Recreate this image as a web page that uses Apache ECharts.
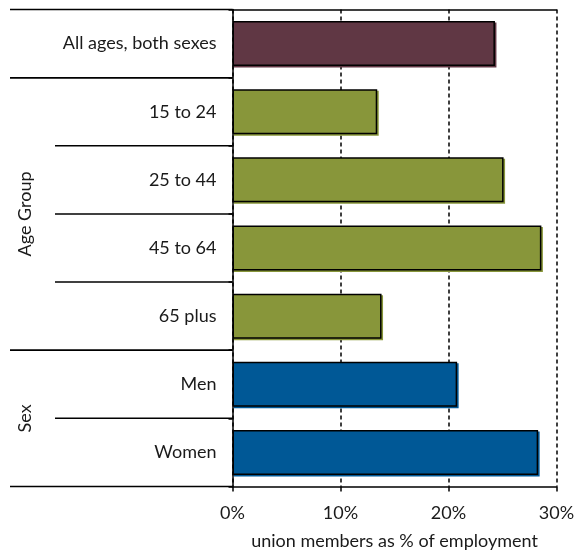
<!DOCTYPE html>
<html>
<head>
<meta charset="utf-8">
<script src="https://cdn.jsdelivr.net/npm/echarts@6/dist/echarts.min.js"></script>
<style>
  html, body { margin: 0; padding: 0; background: #fff; }
  #chart { width: 574px; height: 552px; }
</style>
</head>
<body>
<div id="chart"></div>
<script>
// Union membership rate by age group and sex
const categories = ['All ages, both sexes', '15 to 24', '25 to 44', '45 to 64', '65 plus', 'Men', 'Women'];
const values = [24.3, 13.4, 25.1, 28.6, 13.8, 20.8, 28.3];
const groupOf = ['total', 'age', 'age', 'age', 'age', 'sex', 'sex'];
const groupColors = { total: '#603744', age: '#88963A', sex: '#005896' };
const groups = [
  { name: '', start: 0, end: 0 },
  { name: 'Age Group', start: 1, end: 4 },
  { name: 'Sex', start: 5, end: 6 }
];
const xTicks = [0, 10, 20, 30];
const xTitle = 'union members as % of employment';

const FONT = 'Lato, "Open Sans", sans-serif';
const FS = 18;
const TEXT = '#1a1a1a';

const chart = echarts.init(document.getElementById('chart'));

const seriesData = values.map((v, i) => {
  const c = groupColors[groupOf[i]];
  return {
    value: v,
    itemStyle: { color: c, shadowColor: c, shadowOffsetX: 1.5, shadowOffsetY: 1.5, shadowBlur: 0 }
  };
});

chart.setOption({
  animation: false,
  grid: { left: 232.5, right: 17.5, top: 9.5, bottom: 65.5, outerBoundsMode: 'none', containLabel: false },
  xAxis: [{
    type: 'value',
    min: xTicks[0], max: xTicks[xTicks.length - 1], interval: 10,
    axisLabel: { formatter: '{value}%', color: TEXT, fontFamily: FONT, fontSize: FS, margin: 18 },
    axisLine: { show: true, lineStyle: { color: '#000', width: 1.5 } },
    axisTick: { show: true, length: 5, lineStyle: { color: '#000', width: 1.5 } },
    splitLine: { show: true, lineStyle: { color: '#000', type: [4, 3], width: 1.5 } },
    name: xTitle, nameLocation: 'middle', nameGap: 46,
    nameTextStyle: { color: TEXT, fontFamily: FONT, fontSize: FS }
  }, {
    type: 'value', position: 'top',
    min: xTicks[0], max: xTicks[xTicks.length - 1], interval: 10,
    axisLabel: { show: false }, axisTick: { show: false }, splitLine: { show: false },
    axisLine: { show: true, lineStyle: { color: '#000', width: 1.5 } }
  }],
  yAxis: {
    type: 'category', data: categories, inverse: true,
    axisLabel: { color: TEXT, fontFamily: FONT, fontSize: FS, margin: 16 },
    axisLine: { show: true, lineStyle: { color: '#000', width: 1.5 } },
    axisTick: { show: true, length: 4, lineStyle: { color: '#000', width: 1.5 } }
  },
  series: [{
    type: 'bar', xAxisIndex: 0, data: seriesData,
    barCategoryGap: '34%',
    itemStyle: { borderColor: '#000', borderWidth: 1.5 }
  }]
});

// Group separators and rotated group names, placed through the category scale
function drawGroups() {
  const yOf = i => chart.convertToPixel({ yAxisIndex: 0 }, categories[i]);
  const band = yOf(1) - yOf(0);
  const axisX = chart.convertToPixel({ xAxisIndex: 0 }, 0);
  const els = [];
  const line = (y, x0) => els.push({
    type: 'line', shape: { x1: x0, y1: y, x2: axisX, y2: y },
    style: { stroke: '#000', lineWidth: 1.5 }, z: 10
  });
  groups.forEach(g => {
    const top = yOf(g.start) - band / 2;
    const bottom = yOf(g.end) + band / 2;
    line(top, 10);
    line(bottom, 10);
    for (let i = g.start + 1; i <= g.end; i++) line(yOf(i) - band / 2, 55);
    if (g.name) {
      els.push({
        type: 'text', x: 25, y: (top + bottom) / 2, rotation: Math.PI / 2,
        style: { text: g.name, fill: TEXT, font: FS + 'px ' + FONT, align: 'center', verticalAlign: 'middle' }
      });
    }
  });
  chart.setOption({ graphic: els });
}
drawGroups();
</script>
</body>
</html>
